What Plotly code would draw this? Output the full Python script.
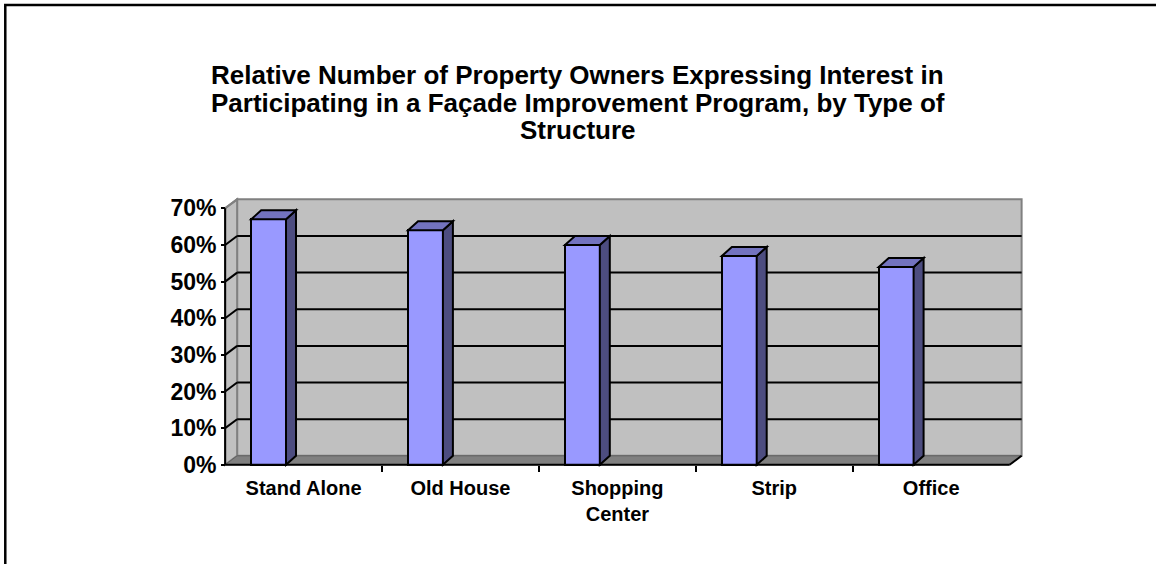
import plotly.graph_objects as go

# ---- data ----
categories = ["Stand Alone", "Old House", "Shopping<br>Center", "Strip", "Office"]
values = [0.67, 0.64, 0.60, 0.57, 0.54]
y_tickvals = [0, 0.1, 0.2, 0.3, 0.4, 0.5, 0.6, 0.7]
y_ticktext = ["0%", "10%", "20%", "30%", "40%", "50%", "60%", "70%"]
title_lines = ["Relative Number of Property Owners Expressing Interest in",
               "Participating in a Façade Improvement Program, by Type of",
               "Structure"]

# ---- geometry (pixel targets) ----
W, H = 1156, 564
X0_PX, PX_PER_X = 225.0, 157.0      # x=0 position, px per category
Y0_PX, PX_PER_Y = 465.0, 367.0      # y=0 position, px per unit (100%)
xr = [-0.02, 5.2]
yr = [-0.006, 0.75]
ml = X0_PX + xr[0] * PX_PER_X
mr = W - (X0_PX + xr[1] * PX_PER_X)
mt = Y0_PX - yr[1] * PX_PER_Y
mb = H - (Y0_PX - yr[0] * PX_PER_Y)
pw = W - ml - mr
ph = H - mt - mb


def px_x(p):
    return (p - ml) / pw


def px_y(p):
    return (H - mb - p) / ph


ymax = 0.7
ncat = len(categories)
dxw, dyw = 12 / PX_PER_X, 9 / PX_PER_Y    # wall depth
dxb, dyb = 10 / PX_PER_X, 9 / PX_PER_Y    # bar depth
bar_w = 0.222
bar_off = 0.277

FRONT = "#9999FF"
SIDE = "#4D4D80"
TOP = "#7373BF"
WALL = "#C0C0C0"
FLOOR = "#808080"

fig = go.Figure()

bar_x = [i + bar_off for i in range(ncat)]
fig.add_trace(go.Bar(
    x=bar_x, y=values, width=bar_w,
    marker=dict(color=FRONT, line=dict(color="black", width=2)),
    hoverinfo="skip", showlegend=False,
))

shapes = []


def poly(pts, fill, line_color="black", lw=2, layer="above"):
    path = "M " + " L ".join(f"{x},{y}" for x, y in pts) + " Z"
    return dict(type="path", xref="x", yref="y", path=path, fillcolor=fill,
                line=dict(color=line_color, width=lw), layer=layer)


def seg(x0, y0, x1, y1, color="black", lw=2, layer="below"):
    return dict(type="line", xref="x", yref="y", x0=x0, y0=y0, x1=x1, y1=y1,
                line=dict(color=color, width=lw), layer=layer)


# back wall
shapes.append(poly([(dxw, dyw), (ncat + dxw, dyw), (ncat + dxw, ymax + dyw), (dxw, ymax + dyw)],
                   WALL, "#808080", 2, "below"))
# side wall
shapes.append(poly([(0, 0), (dxw, dyw), (dxw, ymax + dyw), (0, ymax)], WALL, "#808080", 2, "below"))
# floor
shapes.append(poly([(0, 0), (ncat, 0), (ncat + dxw, dyw), (dxw, dyw)], FLOOR, "#606060", 1, "below"))
# gridlines on back & side wall
for v in y_tickvals[1:-1]:
    shapes.append(seg(dxw, v + dyw, ncat + dxw, v + dyw))
    shapes.append(seg(0, v, dxw, v + dyw))
# front axis lines
shapes.append(seg(0, 0, 0, ymax, lw=2, layer="above"))
shapes.append(seg(0, 0, ncat, 0, lw=2, layer="above"))
shapes.append(seg(ncat, 0, ncat + dxw, dyw, lw=2, layer="above"))
shapes.append(seg(0, ymax, dxw, ymax + dyw, color="#808080", lw=2, layer="below"))

# 3D faces of the bars
for xc, v in zip(bar_x, values):
    xl, xrt = xc - bar_w / 2, xc + bar_w / 2
    shapes.append(poly([(xrt, 0), (xrt + dxb, dyb), (xrt + dxb, v + dyb), (xrt, v)], SIDE))
    shapes.append(poly([(xl, v), (xrt, v), (xrt + dxb, v + dyb), (xl + dxb, v + dyb)], TOP))

# outer border (left and top visible)
shapes.append(dict(type="rect", xref="paper", yref="paper",
                   x0=px_x(5), x1=px_x(W + 10), y0=px_y(H + 10), y1=px_y(4.5),
                   line=dict(color="black", width=2.5), fillcolor="rgba(0,0,0,0)", layer="above"))

# title lines
annotations = []
for line, yc in zip(title_lines, [75, 103, 130]):
    annotations.append(dict(text=f"<b>{line}</b>", xref="paper", yref="paper",
                            x=px_x(578), y=px_y(yc), xanchor="center", yanchor="middle",
                            showarrow=False, font=dict(size=26, color="black")))

fig.update_layout(
    width=W, height=H, autosize=False,
    margin=dict(l=ml, r=mr, t=mt, b=mb, pad=0),
    paper_bgcolor="white", plot_bgcolor="white",
    font=dict(family="Liberation Sans, Arial, sans-serif", color="black"),
    xaxis=dict(range=xr, showgrid=False, zeroline=False, showline=False,
               tickmode="array", tickvals=[i + 0.5 for i in range(ncat)],
               ticktext=[f"<b>{c}</b>" for c in categories],
               ticks="", tickfont=dict(size=20), ticklabelstandoff=9,
               anchor="free", position=px_y(Y0_PX),
               minor=dict(tickmode="array", tickvals=list(range(1, ncat)), ticks="outside",
                          ticklen=6, tickwidth=2, tickcolor="black", showgrid=False),
               fixedrange=True),
    yaxis=dict(range=yr, showgrid=False, zeroline=False, showline=False,
               tickmode="array", tickvals=y_tickvals,
               ticktext=[f"<b>{t}</b>" for t in y_ticktext],
               ticks="outside", ticklen=4, tickwidth=2, tickcolor="black",
               tickfont=dict(size=23),
               anchor="free", position=px_x(X0_PX),
               fixedrange=True),
    shapes=shapes,
    annotations=annotations,
    bargap=0,
)

fig.write_html("out.html", config={"displayModeBar": False},
               post_script="document.body.style.margin='0';")
